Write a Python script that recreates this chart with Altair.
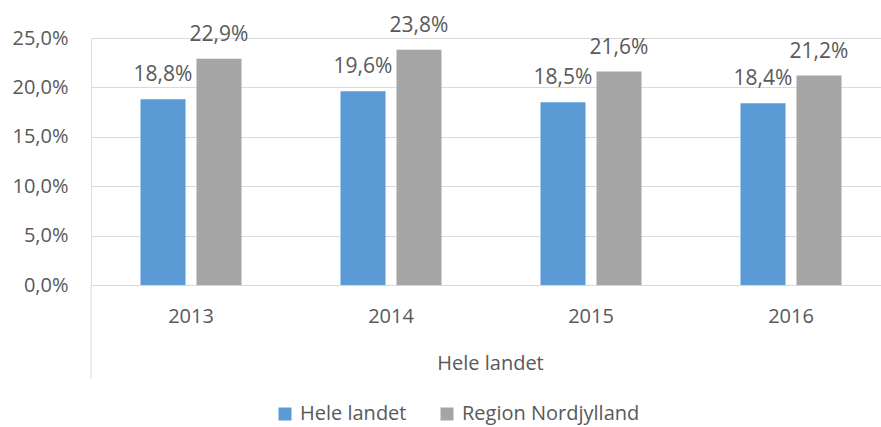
import altair as alt
import pandas as pd

years = ["2013", "2014", "2015", "2016"]
hele_landet = [18.8, 19.6, 18.5, 18.4]
region_nord = [22.9, 23.8, 21.6, 21.2]
series_names = ["Hele landet", "Region Nordjylland"]
colors = ["#5B9BD5", "#A5A5A5"]

rows = []
for i, y in enumerate(years):
    for name, vals in zip(series_names, [hele_landet, region_nord]):
        v = vals[i]
        rows.append({"year": y, "series": name, "value": v,
                     "label": f"{v:.1f}".replace(".", ",") + "%"})
df = pd.DataFrame(rows)

FONT = "Open Sans"
TXT = "#595959"
W, H = 790, 247

x_enc = alt.X("year:N", sort=years,
              scale=alt.Scale(paddingInner=0.495, paddingOuter=0.2475, range=[0, 800]),
              axis=alt.Axis(title="Hele landet", labelAngle=0, domain=False, ticks=False,
                            labelPadding=21, titlePadding=27, labelFontSize=20,
                            titleFontSize=20, titleFontWeight="normal", titleX=399,
                            labelColor=TXT, titleColor=TXT, labelFont=FONT, titleFont=FONT))
xoff = alt.XOffset("series:N", sort=series_names,
                   scale=alt.Scale(domain=series_names, paddingInner=0.196, paddingOuter=0))
y_enc = alt.Y("value:Q",
              scale=alt.Scale(domain=[0, 25], nice=False),
              axis=alt.Axis(title=None, values=[0, 5, 10, 15, 20, 25], domain=False, ticks=False,
                            gridColor="#D9D9D9", gridWidth=1, labelPadding=23,
                            labelFontSize=20, labelColor=TXT, labelFont=FONT,
                            labelExpr="replace(format(datum.value, '.1f'), '.', ',') + '%'"))

color = alt.Color("series:N",
                  scale=alt.Scale(domain=series_names, range=colors),
                  legend=alt.Legend(title=None, orient="none", direction="horizontal",
                                    legendX=184, legendY=366, symbolType="square",
                                    symbolSize=169, symbolStrokeWidth=0,
                                    labelFontSize=20, labelColor=TXT, labelFont=FONT,
                                    labelLimit=0, columnPadding=30, labelOffset=5))

base = alt.Chart(df)
bars = base.mark_bar().encode(x=x_enc, xOffset=xoff, y=y_enc, color=color)
labels = base.mark_text(baseline="alphabetic", dy=-18, fontSize=21, font=FONT, color=TXT).encode(
    x=alt.X("year:N", sort=years), xOffset=alt.XOffset("series:N", sort=series_names),
    y="value:Q", text="label:N")
vline = alt.Chart(pd.DataFrame({"a": [0]})).mark_rule(color="#D9D9D9", strokeWidth=1).encode(
    x=alt.value(0), y=alt.value(H), y2=alt.value(H + 94))

chart = alt.layer(bars, labels, vline).properties(
    width=W, height=H,
    autosize=alt.AutoSizeParams(type="none"),
    padding={"left": 91, "top": 38, "right": 0, "bottom": 142},
).configure_view(stroke=None).configure(background="white")

chart.save("out.html", embed_options={"renderer": "svg", "actions": False})
